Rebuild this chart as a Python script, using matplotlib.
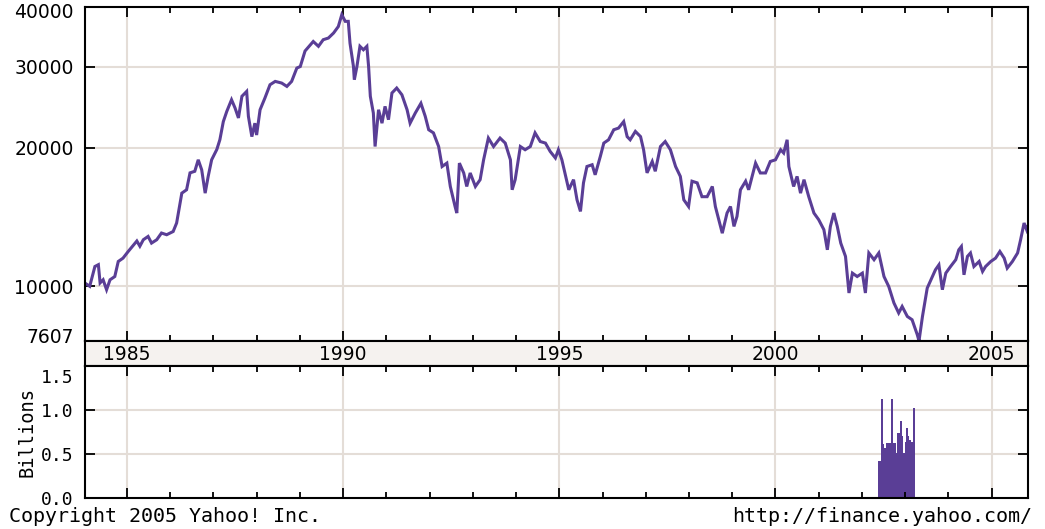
import matplotlib
matplotlib.use("Agg")
import matplotlib.pyplot as plt
from matplotlib.ticker import FixedLocator, FixedFormatter
import matplotlib.transforms as mtrans

# Nikkei 225 level (decimal year, index)
years = [1984.03, 1984.14, 1984.26, 1984.34, 1984.38, 1984.45, 1984.53, 1984.61, 1984.72, 1984.80,
         1984.91, 1985.03, 1985.23, 1985.30, 1985.38, 1985.49, 1985.57, 1985.69, 1985.80, 1985.92,
         1986.07, 1986.15, 1986.23, 1986.27, 1986.38, 1986.46, 1986.57, 1986.65, 1986.73, 1986.81,
         1986.88, 1986.96, 1987.08, 1987.15, 1987.23, 1987.31, 1987.42, 1987.50, 1987.58, 1987.66,
         1987.77, 1987.81, 1987.89, 1987.96, 1988.00, 1988.08, 1988.19, 1988.31, 1988.43, 1988.58,
         1988.70, 1988.81, 1988.93, 1989.01, 1989.12, 1989.31, 1989.43, 1989.54, 1989.66, 1989.78,
         1989.89, 1989.97, 1990.05, 1990.12, 1990.16, 1990.24, 1990.26, 1990.32, 1990.39, 1990.47,
         1990.55, 1990.59, 1990.63, 1990.70, 1990.74, 1990.82, 1990.90, 1990.97, 1991.05, 1991.13,
         1991.24, 1991.36, 1991.48, 1991.55, 1991.67, 1991.80, 1991.90, 1991.98, 1992.09, 1992.21,
         1992.29, 1992.40, 1992.48, 1992.59, 1992.63, 1992.69, 1992.79, 1992.86, 1992.94, 1993.06,
         1993.17, 1993.25, 1993.36, 1993.48, 1993.63, 1993.75, 1993.87, 1993.91, 1993.98, 1994.10,
         1994.21, 1994.33, 1994.44, 1994.56, 1994.68, 1994.79, 1994.91, 1994.98, 1995.06, 1995.22,
         1995.33, 1995.41, 1995.49, 1995.56, 1995.64, 1995.76, 1995.83, 1995.95, 1996.03, 1996.14,
         1996.26, 1996.37, 1996.49, 1996.57, 1996.64, 1996.76, 1996.88, 1996.95, 1997.03, 1997.15,
         1997.22, 1997.34, 1997.45, 1997.57, 1997.69, 1997.80, 1997.88, 1997.99, 1998.07, 1998.19,
         1998.30, 1998.42, 1998.54, 1998.61, 1998.77, 1998.88, 1998.96, 1999.04, 1999.11, 1999.19,
         1999.31, 1999.38, 1999.46, 1999.54, 1999.65, 1999.77, 1999.88, 2000.00, 2000.12, 2000.19,
         2000.27, 2000.31, 2000.42, 2000.50, 2000.58, 2000.66, 2000.77, 2000.89, 2001.00, 2001.12,
         2001.20, 2001.27, 2001.35, 2001.43, 2001.51, 2001.62, 2001.70, 2001.78, 2001.89, 2002.01,
         2002.08, 2002.16, 2002.28, 2002.39, 2002.51, 2002.62, 2002.74, 2002.85, 2002.93, 2003.05,
         2003.16, 2003.28, 2003.32, 2003.40, 2003.51, 2003.63, 2003.70, 2003.78, 2003.86, 2003.94,
         2004.05, 2004.17, 2004.24, 2004.30, 2004.36, 2004.44, 2004.51, 2004.59, 2004.71, 2004.79,
         2004.86, 2004.98, 2005.09, 2005.19, 2005.29, 2005.36, 2005.48, 2005.60, 2005.67, 2005.75,
         2005.81, 2005.84]
closes = [10160, 10000, 11040, 11140, 10170, 10330, 9830, 10330, 10500, 11320,
          11510, 11900, 12540, 12220, 12620, 12830, 12410, 12620, 13050, 12940,
          13150, 13720, 15160, 15930, 16200, 17630, 17770, 18820, 17900, 15930,
          17320, 18820, 19820, 20800, 22780, 23970, 25410, 24400, 23200, 25850,
          26490, 23390, 21130, 22600, 21300, 24170, 25600, 27390, 27850, 27620,
          27160, 27850, 29770, 30000, 32420, 34000, 33190, 34300, 34590, 35470,
          36640, 38870, 37600, 37600, 33710, 30000, 28080, 30000, 33190, 32620,
          33190, 30000, 25860, 23780, 20110, 24170, 22600, 24580, 23000, 26280,
          26940, 26050, 24170, 22600, 23780, 24960, 23390, 21870, 21530, 20110,
          18200, 18510, 16470, 14900, 14420, 18510, 17620, 16470, 17620, 16470,
          17040, 18820, 20980, 20110, 20980, 20460, 18820, 16200, 17040, 20110,
          19790, 20110, 21530, 20620, 20460, 19620, 18990, 19790, 18820, 16200,
          17040, 15410, 14540, 16770, 18200, 18360, 17460, 19150, 20460, 20800,
          21870, 22050, 22780, 21130, 20800, 21690, 21130, 19790, 17630, 18660,
          17770, 20110, 20620, 19790, 18200, 17320, 15410, 14900, 16910, 16770,
          15650, 15650, 16470, 14900, 13040, 14420, 14900, 13490, 14180, 16200,
          16910, 16200, 17320, 18510, 17620, 17620, 18660, 18820, 19790, 19470,
          20800, 18200, 16470, 17320, 15930, 17040, 15650, 14420, 13950, 13270,
          12000, 13490, 14420, 13490, 12410, 11610, 9670, 10680, 10500, 10680,
          9670, 11810, 11420, 11810, 10500, 9990, 9200, 8750, 9040, 8600,
          8460, 7850, 7610, 8600, 9910, 10500, 10860, 11130, 9830, 10680,
          11040, 11420, 12000, 12200, 10590, 11610, 11810, 11040, 11320, 10770,
          11040, 11320, 11510, 11900, 11510, 10950, 11320, 11810, 12620, 13720,
          13260, 13500]

# volume in billions of shares (only late 2002 - early 2003 is shown)
vol_years = [2002.38, 2002.44, 2002.485, 2002.52, 2002.56, 2002.665, 2002.71, 2002.79, 2002.82,
             2002.885, 2002.925, 2002.95, 2002.985, 2003.03, 2003.06, 2003.10, 2003.14, 2003.18,
             2003.225]
vol_billions = [0.42, 1.12, 0.61, 0.57, 0.62, 1.12, 0.62, 0.51, 0.74,
                0.87, 0.70, 0.51, 0.64, 0.80, 0.70, 0.66, 0.64, 1.02,
                0.0]

price_grid = [10000, 20000, 30000]
price_edge = [7607, 40000]
vol_ticks = [0.0, 0.5, 1.0, 1.5]
year_labels = [1985, 1990, 1995, 2000, 2005]

purple = "#5a3e96"
grid_c = "#e4ddd7"
band_c = "#f5f2ef"
xlim = (1984.03, 2005.84)

fig = plt.figure(figsize=(10.45, 5.29), dpi=100)
ax = fig.add_axes([0.0813, 0.3554, 0.9024, 0.6314])
band = fig.add_axes([0.0813, 0.3081, 0.9024, 0.0473])
axv = fig.add_axes([0.0813, 0.0586, 0.9024, 0.2495])

major_years = list(range(1985, 2006, 5))
minor_years = list(range(1985, 2006))

for a in (ax, band, axv):
    a.set_xlim(*xlim)
    for s in a.spines.values():
        s.set_linewidth(1.5)
        s.set_color("black")

# price panel
ax.plot(years, closes, color=purple, lw=2.2, solid_joinstyle="miter")
ax.set_yscale("log")
ax.set_ylim(7607, 40400)
ax.yaxis.set_major_locator(FixedLocator(price_grid))
ax.yaxis.set_major_formatter(FixedFormatter([str(v) for v in price_grid]))
ax.yaxis.set_minor_locator(FixedLocator(price_edge))
ax.yaxis.set_minor_formatter(FixedFormatter([str(v) for v in price_edge]))
for v in price_grid:
    ax.axhline(v, color=grid_c, lw=1.5, zorder=0)

for a in (ax, axv):
    a.xaxis.set_major_locator(FixedLocator(major_years))
    a.xaxis.set_minor_locator(FixedLocator(minor_years))
    a.tick_params(axis="x", which="both", direction="in", top=True, bottom=True,
                  labelbottom=False, width=1.3)
    a.tick_params(axis="x", which="major", length=7)
    a.tick_params(axis="x", which="minor", length=4)
    for yr in major_years:
        a.axvline(yr, color=grid_c, lw=1.5, zorder=0)

ax.tick_params(axis="y", which="major", direction="in", left=True, right=True,
               length=7, width=1.3, pad=8, labelsize=13.5)
ax.tick_params(axis="y", which="minor", direction="in", left=True, right=False,
               length=0, pad=8, labelsize=13.5)

# date band
band.set_facecolor(band_c)
band.set_xticks([])
band.set_yticks([])
btrans = mtrans.blended_transform_factory(band.transData, band.transAxes)
for yr in year_labels:
    band.text(yr, 0.45, str(yr), transform=btrans, ha="center", va="center",
              fontsize=13.5)

# volume panel
axv.fill_between(vol_years, vol_billions, step="post", color=purple, lw=0)
axv.set_ylim(0, 1.5)
axv.yaxis.set_major_locator(FixedLocator(vol_ticks))
axv.yaxis.set_major_formatter(FixedFormatter(["%.1f" % v for v in vol_ticks]))
for v in (0.5, 1.0):
    axv.axhline(v, color=grid_c, lw=1.5, zorder=0)
axv.tick_params(axis="y", direction="in", left=True, right=True, length=7, width=1.3,
                pad=8, labelsize=13)
for lbl in axv.get_yticklabels():
    lbl.set_family("DejaVu Sans Mono")

# nudge the edge labels inside like the original (offsets in inches, 100 dpi)
for lbl, v in zip(ax.yaxis.get_minorticklabels(), price_edge):
    dy = 0.05 if v == 7607 else -0.02
    lbl.set_transform(lbl.get_transform() +
                      mtrans.ScaledTranslation(0, dy, fig.dpi_scale_trans))
for lbl, v in zip(axv.get_yticklabels(), vol_ticks):
    if v == 1.5:
        lbl.set_transform(lbl.get_transform() +
                          mtrans.ScaledTranslation(0, -0.10, fig.dpi_scale_trans))

fig.text(27 / 1045, 1 - 432 / 529, "Billions", rotation=90, ha="center", va="center",
         family="DejaVu Sans Mono", fontsize=13.5)
fig.text(9 / 1045, 1 - 517 / 529, "Copyright 2005 Yahoo! Inc.", ha="left", va="center",
         family="DejaVu Sans Mono", fontsize=14.4)
fig.text(1032 / 1045, 1 - 517 / 529, "http://finance.yahoo.com/", ha="right", va="center",
         family="DejaVu Sans Mono", fontsize=14.4)

fig.savefig("out.png", dpi=100, facecolor="white")
